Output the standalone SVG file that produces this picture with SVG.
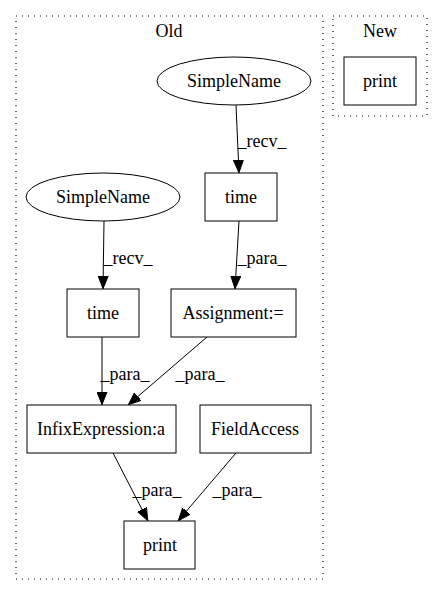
<svg xmlns="http://www.w3.org/2000/svg" width="443" height="596" viewBox="0 0 443 596">
<defs>
<marker id="arr" markerWidth="13" markerHeight="11" refX="13" refY="5.5" orient="auto" markerUnits="userSpaceOnUse">
<polygon points="0,0.5 12.5,5.5 0,10.5" fill="#000" stroke="#000"/>
</marker>
</defs>
<style>
text{font-family:"Liberation Serif","Times New Roman",serif;font-size:18px;fill:#000;text-anchor:middle}
.cl{fill:none;stroke:#000;stroke-dasharray:1,5;stroke-width:1.2}
.n{fill:#fff;stroke:#000;stroke-width:1}
.e{fill:none;stroke:#000;stroke-width:1;marker-end:url(#arr)}
</style>
<rect width="443" height="596" fill="#fff"/>
<g id="cluster_old">
<rect class="cl" x="16" y="16" width="307" height="563"/>
<text x="169" y="37">Old</text>
</g>
<g id="cluster_new">
<rect class="cl" x="333" y="16" width="94" height="100"/>
<text x="380" y="37">New</text>
</g>
<g id="edges">
<path class="e" d="M236,105 L239,173"/>
<text x="262" y="147">_recv_</text>
<path class="e" d="M239,221 L235,289"/>
<text x="262" y="264">_para_</text>
<path class="e" d="M104,221 L103,289"/>
<text x="128" y="264">_recv_</text>
<path class="e" d="M102,337 L102,405"/>
<text x="125" y="380">_para_</text>
<path class="e" d="M207,337 L128,405"/>
<text x="200" y="380">_para_</text>
<path class="e" d="M113,453 L148,521"/>
<text x="157" y="496">_para_</text>
<path class="e" d="M236,453 L178,521"/>
<text x="237" y="496">_para_</text>
</g>
<g id="simplename1">
<ellipse class="n" cx="234" cy="81" rx="77" ry="24"/>
<text x="234" y="87">SimpleName</text>
</g>
<g id="time1">
<rect class="n" x="205" y="173" width="72" height="48"/>
<text x="241" y="203">time</text>
</g>
<g id="simplename2">
<ellipse class="n" cx="103" cy="197" rx="77" ry="24"/>
<text x="103" y="203">SimpleName</text>
</g>
<g id="time2">
<rect class="n" x="67" y="289" width="72" height="48"/>
<text x="103" y="319">time</text>
</g>
<g id="assignment">
<rect class="n" x="171" y="289" width="125" height="48"/>
<text x="233" y="319">Assignment:=</text>
</g>
<g id="infix">
<rect class="n" x="27" y="405" width="149" height="48"/>
<text x="101" y="435">InfixExpression:a</text>
</g>
<g id="fieldaccess">
<rect class="n" x="200" y="405" width="111" height="48"/>
<text x="255" y="435">FieldAccess</text>
</g>
<g id="print_old">
<rect class="n" x="124" y="521" width="71" height="48"/>
<text x="160" y="551">print</text>
</g>
<g id="print_new">
<rect class="n" x="344" y="57" width="72" height="48"/>
<text x="380" y="87">print</text>
</g>
</svg>
